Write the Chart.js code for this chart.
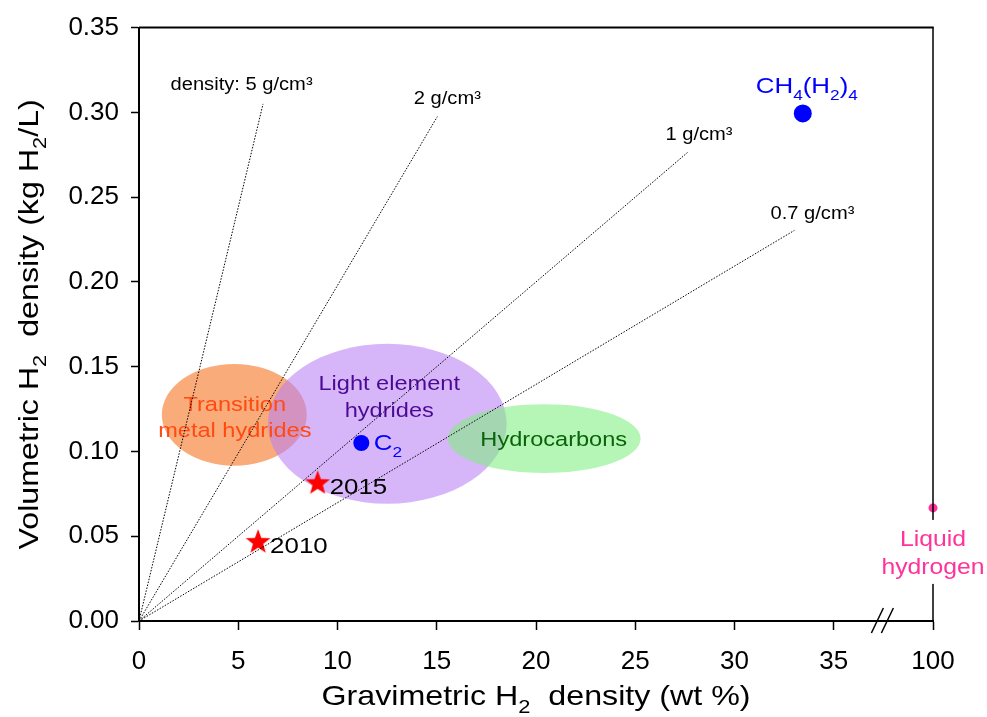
<!DOCTYPE html>
<html>
<head>
<meta charset="utf-8">
<script src="https://cdn.jsdelivr.net/npm/chart.js@4.4.1/dist/chart.umd.min.js"></script>
<style>
  html, body { margin: 0; padding: 0; background: #fff; }
  canvas { display: block; }
</style>
</head>
<body>
<canvas id="c" width="987" height="717"></canvas>
<script>
// ---------------- data ----------------
const xTickValues = [0, 5, 10, 15, 20, 25, 30, 35, 40];
const xTickLabels = ['0', '5', '10', '15', '20', '25', '30', '35', '100']; // axis broken after 35
const yTickValues = [0, 0.05, 0.10, 0.15, 0.20, 0.25, 0.30, 0.35];

const densityLabels = ['density: 5 g/cm³', '2 g/cm³', '1 g/cm³', '0.7 g/cm³'];
const densityEndX = [6.25, 15.03, 27.63, 33.02];
const densityEndY = [0.305, 0.2975, 0.2763, 0.2304];

const regionLabels = [['Transition', 'metal hydrides'], ['Light element', 'hydrides'], ['Hydrocarbons']];
const regionXMin = [1.15, 6.49, 15.56];
const regionXMax = [8.45, 18.52, 25.27];
const regionYMin = [0.0916, 0.0692, 0.0873];
const regionYMax = [0.1516, 0.1635, 0.1279];

const materialNames = ['C2', 'CH4(H2)4'];
const materialX = [11.2, 33.44];
const materialY = [0.105, 0.2994];

const liquidName = 'Liquid hydrogen';
const liquidX = [40];      // plotted at the "100" position of the broken axis
const liquidY = [0.0667];

const targetYears = ['2010', '2015'];
const targetX = [6.0, 9.0];
const targetY = [0.0465, 0.0812];

// ---------------- styles ----------------
const FONT = '"Liberation Sans", Arial, Helvetica, sans-serif';
const HS = 1.15; // horizontal text stretch
const regionFill = ['rgba(245,110,25,0.58)', 'rgba(186,128,244,0.58)', 'rgba(128,238,128,0.58)'];
const regionText = ['#ff4a12', '#4b0a94', '#0a640a'];

function starCanvas(color, R, r) {
  const size = Math.ceil(R * 2 + 2);
  const cv = document.createElement('canvas');
  cv.width = size; cv.height = size;
  const g = cv.getContext('2d');
  g.fillStyle = color;
  g.beginPath();
  for (let i = 0; i < 10; i++) {
    const a = -Math.PI / 2 + i * Math.PI / 5;
    const rad = i % 2 === 0 ? R : r;
    const px = size / 2 + rad * Math.cos(a), py = size / 2 + rad * Math.sin(a);
    if (i === 0) g.moveTo(px, py); else g.lineTo(px, py);
  }
  g.closePath(); g.fill();
  return cv;
}
const star = starCanvas('#ff0000', 13, 5.4);

// rich text: segs = [[text, isSub], ...]
function richWidth(ctx, segs, F) {
  let w = 0;
  for (const [t, sub] of segs) {
    ctx.font = (sub ? Math.round(F * 0.68) : F) + 'px ' + FONT;
    w += ctx.measureText(t).width;
  }
  return w * HS;
}
function drawRich(ctx, segs, x, y, F, color, align) {
  ctx.save();
  const w = richWidth(ctx, segs, F);
  let sx = x;
  if (align === 'center') sx = x - w / 2;
  else if (align === 'right') sx = x - w;
  ctx.fillStyle = color;
  ctx.textAlign = 'left';
  ctx.textBaseline = 'alphabetic';
  for (const [t, sub] of segs) {
    const f = sub ? Math.round(F * 0.68) : F;
    ctx.font = f + 'px ' + FONT;
    ctx.save();
    ctx.translate(sx, y + (sub ? F * 0.3 : 0));
    ctx.scale(HS, 1);
    ctx.fillText(t, 0, 0);
    ctx.restore();
    sx += ctx.measureText(t).width * HS;
  }
  ctx.restore();
}
function drawText(ctx, t, x, y, F, color, align) { drawRich(ctx, [[t, false]], x, y, F, color, align); }

const decorPlugin = {
  id: 'decor',
  beforeDatasetsDraw(chart) {
    const ctx = chart.ctx, xs = chart.scales.x, ys = chart.scales.y;
    ctx.save();
    // regions (ellipses)
    for (let i = 0; i < regionLabels.length; i++) {
      const x1 = xs.getPixelForValue(regionXMin[i]), x2 = xs.getPixelForValue(regionXMax[i]);
      const y1 = ys.getPixelForValue(regionYMax[i]), y2 = ys.getPixelForValue(regionYMin[i]);
      ctx.fillStyle = regionFill[i];
      ctx.beginPath();
      ctx.ellipse((x1 + x2) / 2, (y1 + y2) / 2, (x2 - x1) / 2, (y2 - y1) / 2, 0, 0, Math.PI * 2);
      ctx.fill();
    }
    // region labels
    const offs = [[0.5, -4, 22], [2, -34, -7], [9.5, 7]];
    for (let i = 0; i < regionLabels.length; i++) {
      const cx = (xs.getPixelForValue(regionXMin[i]) + xs.getPixelForValue(regionXMax[i])) / 2;
      const cy = (ys.getPixelForValue(regionYMin[i]) + ys.getPixelForValue(regionYMax[i])) / 2;
      regionLabels[i].forEach((line, j) => {
        drawText(ctx, line, cx + offs[i][0], cy + offs[i][j + 1], 20.5, regionText[i], 'center');
      });
    }
    ctx.restore();
  },
  afterDatasetsDraw(chart) {
    const ctx = chart.ctx, xs = chart.scales.x, ys = chart.scales.y, a = chart.chartArea;
    ctx.save();
    // frame top & right
    ctx.strokeStyle = '#000';
    ctx.lineWidth = 2;
    ctx.beginPath(); ctx.moveTo(a.left, a.top); ctx.lineTo(a.right + 0.75, a.top); ctx.stroke();
    ctx.lineWidth = 1.5;
    ctx.beginPath(); ctx.moveTo(a.right, a.top); ctx.lineTo(a.right, a.bottom); ctx.stroke();
    // axis break marks
    const bx = xs.getPixelForValue(37.45);
    ctx.lineWidth = 1.5;
    [-5, 5].forEach(d => {
      ctx.beginPath();
      ctx.moveTo(bx + d - 6, a.bottom + 12);
      ctx.lineTo(bx + d + 6, a.bottom - 13);
      ctx.stroke();
    });
    // density labels
    const dOff = [[-21.5, -13.5], [10, -12.5], [11.5, -12.7], [18, -11]];
    for (let i = 0; i < densityLabels.length; i++) {
      const px = xs.getPixelForValue(densityEndX[i]), py = ys.getPixelForValue(densityEndY[i]);
      drawText(ctx, densityLabels[i], px + dOff[i][0], py + dOff[i][1], 17.5, '#000', 'center');
    }
    // material labels
    let px = xs.getPixelForValue(materialX[0]), py = ys.getPixelForValue(materialY[0]);
    drawRich(ctx, [['C', false], ['2', true]], px + 12.5, py + 7.5, 22.5, '#0000ff', 'left');
    px = xs.getPixelForValue(materialX[1]); py = ys.getPixelForValue(materialY[1]);
    drawRich(ctx, [['CH', false], ['4', true], ['(H', false], ['2', true], [')', false], ['4', true]],
      px - 47, py - 20, 22.5, '#0000ff', 'left');
    // target years
    for (let i = 0; i < targetYears.length; i++) {
      const tx = xs.getPixelForValue(targetX[i]), ty = ys.getPixelForValue(targetY[i]);
      drawText(ctx, targetYears[i], tx + 12, ty + 11, 22.5, '#000', 'left');
    }
    // liquid hydrogen label (white box breaks the right frame)
    const lx = xs.getPixelForValue(liquidX[0]), ly = ys.getPixelForValue(liquidY[0]);
    ctx.fillStyle = '#fff';
    ctx.fillRect(lx - 6, ly + 12, 12, 64);
    drawText(ctx, 'Liquid', lx, ly + 38, 21.5, '#ff3399', 'center');
    drawText(ctx, 'hydrogen', lx, ly + 66, 21.5, '#ff3399', 'center');
    // axis titles
    const xc = (a.left + a.right) / 2;
    drawRich(ctx, [['Gravimetric H', false], ['2', true], ['  density (wt %)', false]], xc, 705, 28, '#000', 'center');
    const yc = (a.top + a.bottom) / 2;
    ctx.save();
    ctx.translate(38, yc);
    ctx.rotate(-Math.PI / 2);
    drawRich(ctx, [['Volumetric H', false], ['2', true], ['  density (kg H', false], ['2', true], ['/L)', false]], 0, 0, 28, '#000', 'center');
    ctx.restore();
    ctx.restore();
  }
};

const datasets = [];
for (let i = 0; i < densityLabels.length; i++) {
  datasets.push({
    label: densityLabels[i],
    data: [{ x: 0, y: 0 }, { x: densityEndX[i], y: densityEndY[i] }],
    showLine: true,
    borderColor: '#000',
    borderWidth: 1,
    borderDash: [1.5, 1.5],
    pointRadius: 0,
    fill: false
  });
}
datasets.push({
  label: 'Targets',
  data: targetX.map((x, i) => ({ x, y: targetY[i] })),
  pointStyle: star,
  pointRadius: 13,
  clip: false
});
datasets.push({
  label: 'C2',
  data: [{ x: materialX[0], y: materialY[0] }],
  pointRadius: 8, pointBackgroundColor: '#0000ff', pointBorderWidth: 0, borderColor: '#0000ff'
});
datasets.push({
  label: 'CH4(H2)4',
  data: [{ x: materialX[1], y: materialY[1] }],
  pointRadius: 9, pointBackgroundColor: '#0000ff', pointBorderWidth: 0, borderColor: '#0000ff'
});
datasets.push({
  label: liquidName,
  data: liquidX.map((x, i) => ({ x, y: liquidY[i] })),
  pointRadius: 4.5, pointBackgroundColor: '#ff3399', pointBorderWidth: 0, borderColor: '#ff3399',
  clip: false
});

new Chart(document.getElementById('c'), {
  type: 'scatter',
  data: { datasets },
  options: {
    responsive: false,
    animation: false,
    devicePixelRatio: 1,
    layout: { padding: { top: 25, right: 54, left: 0, bottom: 0 } },
    plugins: { legend: { display: false }, tooltip: { enabled: false } },
    scales: {
      x: {
        type: 'linear', min: 0, max: 40,
        afterBuildTicks: s => { s.ticks = xTickValues.map(v => ({ value: v })); },
        ticks: {
          callback: (v) => xTickLabels[xTickValues.indexOf(v)],
          font: { family: FONT, size: 26 }, color: '#000', padding: 16,
          maxRotation: 0, autoSkip: false
        },
        grid: { drawOnChartArea: false, drawTicks: true, tickLength: 9, tickColor: '#000', tickWidth: 1.5 },
        border: { color: '#000', width: 2 },
        afterFit: s => { s.height = 96; }
      },
      y: {
        type: 'linear', min: 0, max: 0.35,
        afterBuildTicks: s => { s.ticks = yTickValues.map(v => ({ value: v })); },
        ticks: {
          callback: v => Number(v).toFixed(2),
          font: { family: FONT, size: 26 }, color: '#000', padding: 12
        },
        grid: { drawOnChartArea: false, drawTicks: true, tickLength: 8, tickColor: '#000', tickWidth: 1.5 },
        border: { color: '#000', width: 2 },
        afterFit: s => { s.width = 139; }
      }
    }
  },
  plugins: [decorPlugin]
});
</script>
</body>
</html>
